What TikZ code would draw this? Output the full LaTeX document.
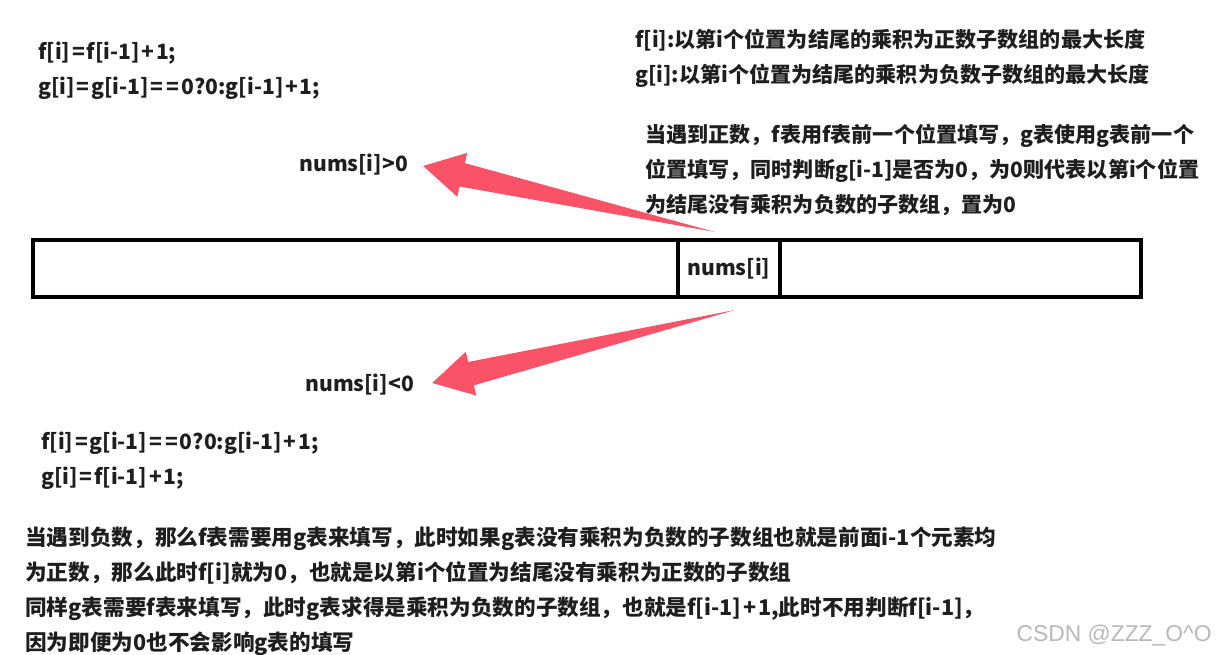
\documentclass[tikz,border=0pt]{standalone}
\usepackage{fontspec}
\setmainfont{Noto Sans CJK SC}
\newfontfamily\markfont{Liberation Sans}
\usetikzlibrary{positioning,calc}
\definecolor{HintRed}{HTML}{FA5266}
\definecolor{InkGray}{HTML}{1E1E1E}
\tikzset{
  % Text block, top-left corner at its coordinate
  note/.style={
    font=\fontsize{12}{19.8}\selectfont\bfseries,
    text=InkGray, align=left, inner sep=0pt, anchor=north west
  },
  % Condition label next to an arrow tip
  cond/.style={font=\fontsize{12}{14}\selectfont\bfseries, text=InkGray, inner sep=0pt, anchor=west},
  % One cell of the array strip
  cellbox/.style={
    rectangle, draw=black, line width=2.3pt,
    minimum height=1.14cm, outer sep=0pt, inner sep=0pt,
    font=\fontsize{12}{14}\selectfont\bfseries, text=InkGray
  }
}
% Tapered hint arrow: #1 tail, #2 tip
\newcommand{\hintarrow}[2]{%
  \coordinate (hb) at ($(#2)!0.8cm!(#1)$);
  \fill[HintRed] (#1) -- ($(hb)!0.24cm!90:(#1)$) -- ($(hb)!0.45cm!90:(#1)$)
    -- (#2) -- ($(hb)!0.45cm!-90:(#1)$) -- ($(hb)!0.24cm!-90:(#1)$) -- cycle;
}
% spaced operators in the formulas
\newcommand{\eq}{\kern1pt=\kern1pt}
\newcommand{\pl}{\kern1pt+\kern1pt}

\begin{document}
\begin{tikzpicture}[x=0.02cm, y=-0.02cm]
  \useasboundingbox (0,0) rectangle (1216,655);

  % array strip
  \node[cellbox, minimum width=12.9cm] (left) at (355.5,268.5) {};
  \node[cellbox, minimum width=2.04cm, right=0pt of left] (cell) {nums[i]};
  \node[cellbox, minimum width=7.22cm, right=0pt of cell] (right) {};

  % positive case
  \node[note] (posrule) at (38,42) {f[i]\eq f[i-1]\pl 1;\\g[i]\eq g[i-1]\eq\eq 0?0:g[i-1]\pl 1;};
  \node[note] (defs) at (635,29) {f[i]:以第i个位置为结尾的乘积为正数子数组的最大长度\\g[i]:以第i个位置为结尾的乘积为负数子数组的最大长度};
  \node[note] (posnote) at (645,124) {当遇到正数，f表用f表前一个位置填写，g表使用g表前一个\\位置填写，同时判断g[i-1]是否为0，为0则代表以第i个位置\\为结尾没有乘积为负数的子数组，置为0};
  \node[cond] (gt) at (299,165) {nums[i]>0};

  % negative case
  \node[cond] (lt) at (305,385) {nums[i]<0};
  \node[note] (negrule) at (41,432) {f[i]\eq g[i-1]\eq\eq 0?0:g[i-1]\pl 1;\\g[i]\eq f[i-1]\pl 1;};
  \node[note, font=\fontsize{12.3}{19.8}\selectfont\bfseries] (negnote) at (25,527) {当遇到负数，那么f表需要用g表来填写，此时如果g表没有乘积为负数的子数组也就是前面i-1个元素均\\为正数，那么此时f[i]就为0，也就是以第i个位置为结尾没有乘积为正数的子数组\\同样g表需要f表来填写，此时g表求得是乘积为负数的子数组，也就是f[i-1]\pl 1,此时不用判断f[i-1]，\\因为即便为0也不会影响g表的填写};

  \node[anchor=east, inner sep=0pt, font=\markfont\fontsize{13}{15}\selectfont, text=black!28] (mark) at (1212,635) {CSDN @ZZZ\_O\^{}O};

  % hint arrows from the cell to the two cases
  \coordinate (ptail) at ($(cell.north)+(-14,-8)$);
  \coordinate (ptip) at ($(gt.east)+(15,1)$);
  \coordinate (ntail) at ($(cell.south)+(6,13)$);
  \coordinate (ntip) at ($(lt.east)+(18,-2)$);
  \hintarrow{ptail}{ptip}
  \hintarrow{ntail}{ntip}
\end{tikzpicture}
\end{document}
